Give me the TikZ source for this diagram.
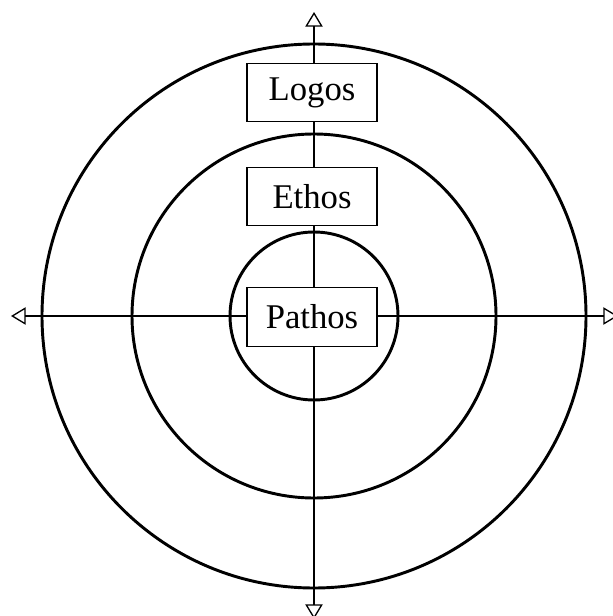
\documentclass[tikz,border=0pt]{standalone}
\usepackage{fontspec}
\setmainfont{Liberation Serif}
\usetikzlibrary{arrows.meta}
\tikzset{
  axis/.style={line width=1.6pt, {Triangle[open,length=11pt,width=13pt,line width=1pt]}-{Triangle[open,length=11pt,width=13pt,line width=1pt]}},
  ring/.style={line width=2.2pt},
  label box/.style={draw, line width=0.9pt, fill=white, minimum width=97.5pt, minimum height=44pt, inner sep=0pt, font=\fontsize{26}{31}\selectfont}
}
\begin{document}
\begin{tikzpicture}[x=0.75pt,y=-0.75pt]
\useasboundingbox (0,0) rectangle (612,616);
\coordinate (O) at (314,316);
\coordinate (T) at (314,12);
\coordinate (B) at (314,619);
\coordinate (L) at (11,316);
\coordinate (R) at (618,316);
\draw[ring] (O) circle[radius=204pt];
\draw[ring] (O) circle[radius=136.5pt];
\draw[ring] (O) circle[radius=63pt];
\draw[axis] (L) -- (R);
\draw[axis] (T) -- (B);
\node[label box] (logos) at (312,92.5) {Logos};
\node[label box] (ethos) at (312,196.5) {Ethos};
\node[label box] (pathos) at (312,317) {Pathos};
\end{tikzpicture}
\end{document}
